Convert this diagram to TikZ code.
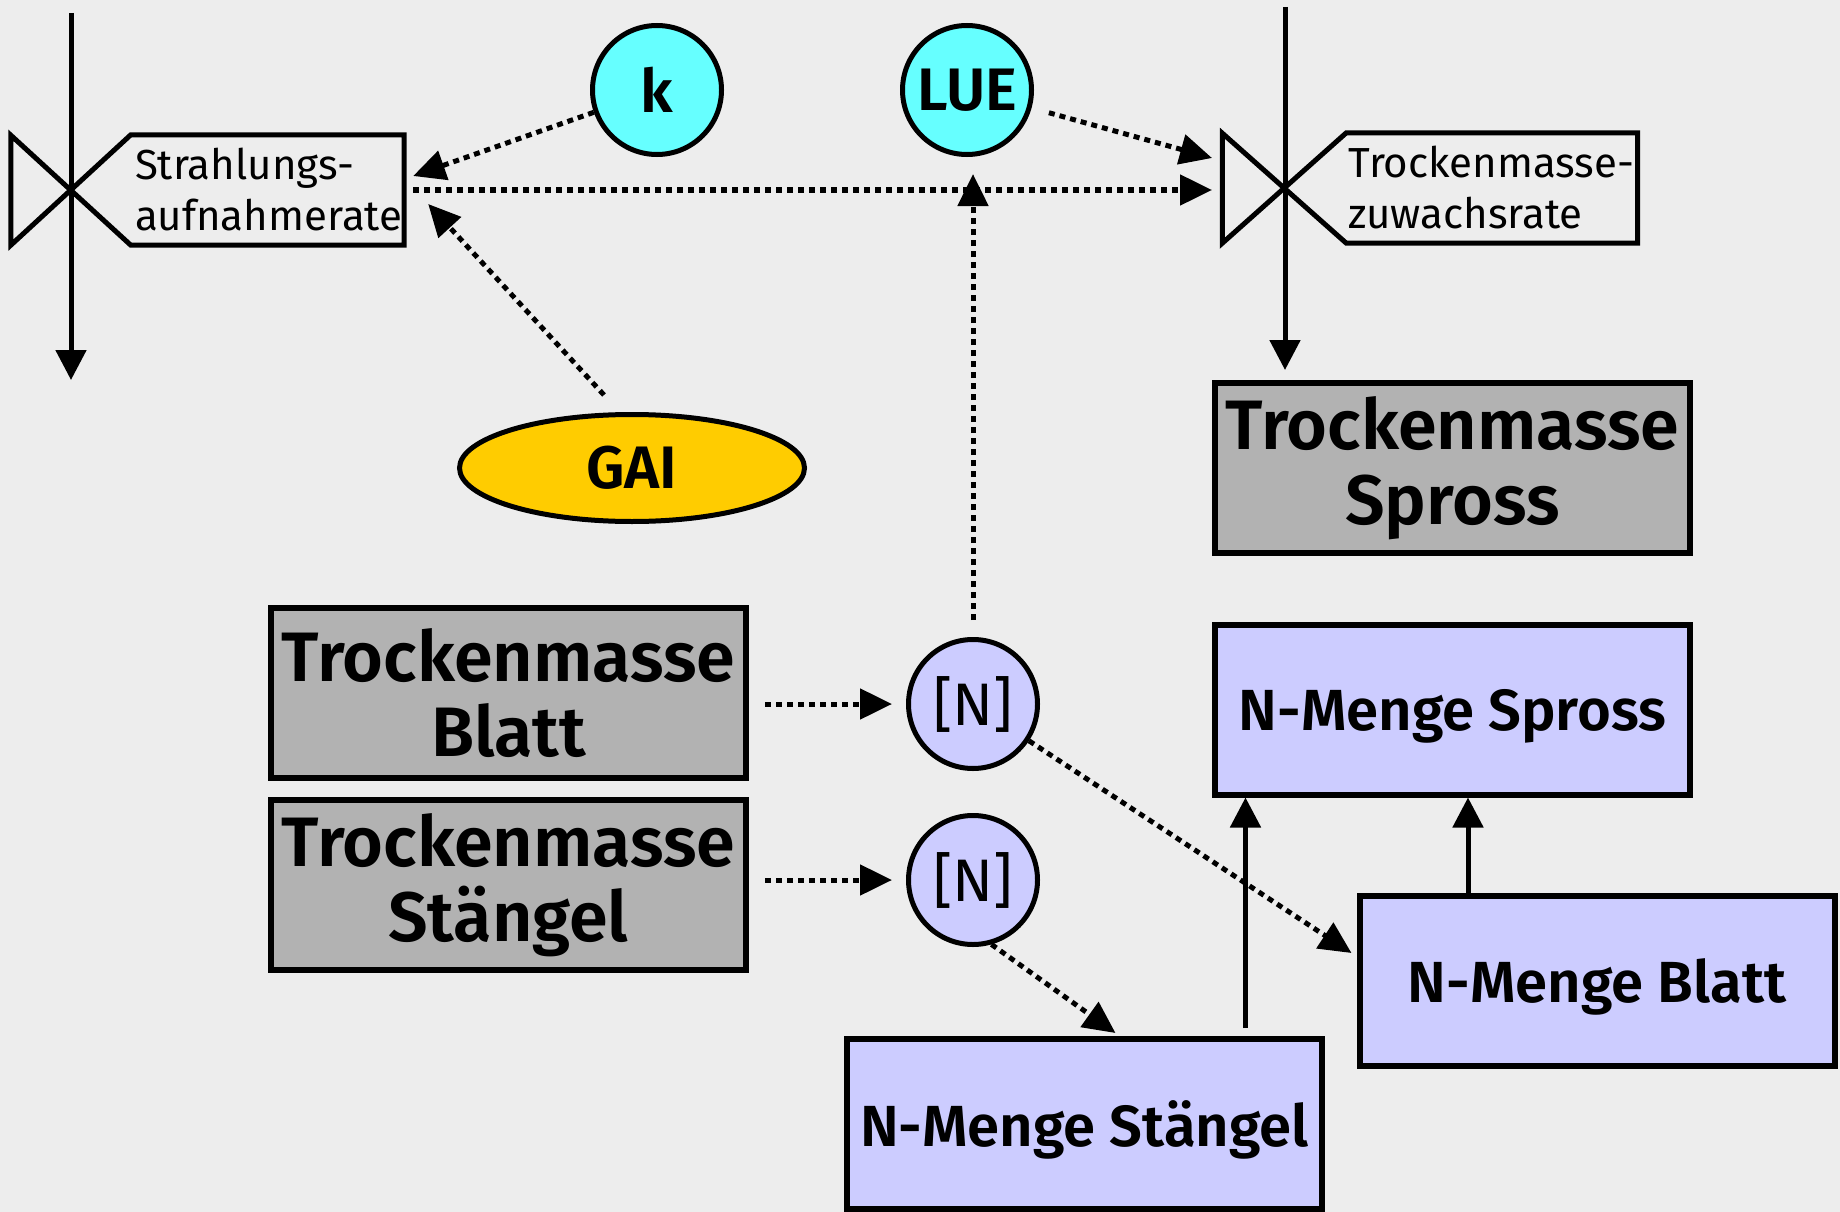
\documentclass[tikz,border=0pt]{standalone}
\usepackage{fontspec}
\setmainfont{Fira Sans}[BoldFont={Fira Sans SemiBold}]
\usetikzlibrary{shapes.geometric,arrows.meta}

\definecolor{bggray}{HTML}{EDEDED}
\definecolor{stockgray}{HTML}{B2B2B2}
\definecolor{nblue}{HTML}{CCCCFF}
\definecolor{paramcyan}{HTML}{66FFFF}
\definecolor{gaigold}{HTML}{FFCC00}

\begin{document}
\begin{tikzpicture}[x=1pt, y=-1pt,
        every node/.style={inner sep=0pt},
        stock/.style={draw, line width=6pt, fill=stockgray, minimum width=475pt, minimum height=170pt,
            align=center, font=\fontsize{70}{75}\selectfont\bfseries},
        nbox/.style={stock, fill=nblue, text depth=0pt, font=\fontsize{58}{60}\selectfont\bfseries},
        param/.style={circle, draw, line width=5pt, fill=paramcyan, minimum size=129pt,
            font=\fontsize{60}{60}\selectfont\bfseries},
        conc/.style={param, fill=nblue, font=\fontsize{60}{60}\selectfont},
        ratelabel/.style={minimum height=110pt, align=left, font=\fontsize{42}{51}\selectfont},
        valve/.style={line width=5pt},
        flow/.style={line width=5pt, -{Triangle[length=30pt,width=30pt]}},
        info/.style={line width=5pt, dash pattern=on 6pt off 5pt, -{Triangle[length=32pt,width=30pt]}}]

    % background
    \fill[bggray] (0,0) rectangle (1840,1212);

    % rates
    \node[ratelabel, minimum width=273pt, text width=265pt] (srate) at (267.5,190) {Strahlungs-\\aufnahmerate};
    \node[ratelabel, minimum width=291pt, text width=287pt] (grate) at (1492,188) {Trockenmasse-\\zuwachsrate};
    \draw[valve] (srate.north west) -- (srate.north east) -- (srate.south east) -- (srate.south west)
        -- ++(-120,-110) -- ++(0,110) -- cycle;
    \draw[valve] (grate.north west) -- (grate.north east) -- (grate.south east) -- (grate.south west)
        -- ++(-124,-110) -- ++(0,110) -- cycle;
    \coordinate (v2) at (1285,190);
    \coordinate (src1) at (71,13);
    \coordinate (sink1) at (71,380);
    \coordinate (src2) at (1285,7);
    \coordinate (lin) at (973,174);

    % parameters
    \node[param] (k) at (657,90) {k};
    \node[param] (lue) at (967,90) {LUE};
    \node[ellipse, draw, line width=5pt, fill=gaigold, minimum width=345pt, minimum height=107pt,
        font=\fontsize{60}{60}\selectfont\bfseries] (gai) at (632,468) {GAI};

    % stocks
    \node[stock] (tmspross) at (1452.5,468) {Trockenmasse\\Spross};
    \node[stock] (tmblatt) at (508.5,693) {Trockenmasse\\Blatt};
    \node[stock] (tmstaengel) at (508.5,885) {Trockenmasse\\Stängel};
    \node[nbox] (nspross) at (1452.5,709.5) {N-Menge Spross};
    \node[nbox] (nblatt) at (1597,981) {N-Menge Blatt};
    \node[nbox] (nstaengel) at (1084.5,1124) {N-Menge Stängel};

    % concentrations
    \node[conc] (n1) at (973,704) {[N]};
    \node[conc] (n2) at (973,880) {[N]};

    % flows
    \draw[flow] (src1) -- (sink1);
    \draw[flow, shorten >=10pt] (src2) -- (src2 |- tmspross.north);
    \draw[flow] ([shift={(161,-8)}]nstaengel.north) -- ([xshift=161pt]nstaengel.north |- nspross.south);
    \draw[flow] ([xshift=-129pt]nblatt.north) -- ([xshift=-129pt]nblatt.north |- nspross.south);

    % information links
    \draw[info] (k) -- ([shift={(9,-14)}]srate.east);
    \draw[info] ([shift={(-28,-17)}]gai.north) -- ([shift={(24,14)}]srate.east);
    \draw[info] ([xshift=9pt]srate.east) -- ([xshift=-73pt]v2);
    \draw[info, shorten <=18pt] (lue) -- ([shift={(-73,-32)}]v2);
    \draw[info] ([yshift=17pt]n1.north) -- (lin);
    \draw[info, shorten <=16pt, shorten >=14pt] (tmblatt.east |- n1) -- (n1);
    \draw[info, shorten <=16pt, shorten >=14pt] (tmstaengel.east |- n2) -- (n2);
    \draw[info] (n1) -- ([shift={(-5,-28)}]nblatt.west);
    \draw[info] (n2.-74) -- ([shift={(31,-3)}]nstaengel.north);
\end{tikzpicture}
\end{document}
